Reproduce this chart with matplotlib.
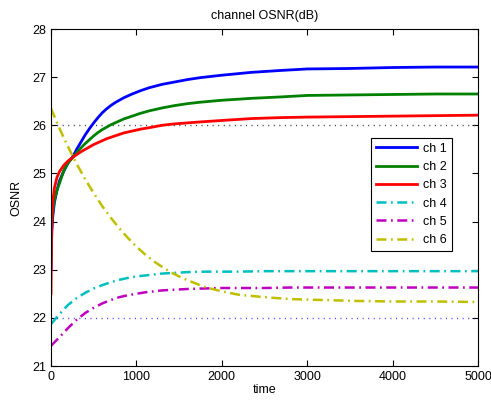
import matplotlib
matplotlib.use("Agg")
import matplotlib.pyplot as plt

plt.rcParams["font.family"] = ["Liberation Sans", "DejaVu Sans"]

# time samples for the fast channels (ch 1-3)
t_fast = [0, 5, 10, 20, 40, 70, 100, 150, 200, 260, 300, 350, 400, 450, 500, 550,
          600, 650, 700, 750, 850, 950, 1050, 1150, 1300, 1450, 1600, 1750, 2000,
          2350, 2700, 3000, 3500, 4000, 4500, 5000]
ch1 = [23.0, 23.5, 23.8, 24.1, 24.4, 24.65, 24.85, 25.05, 25.22, 25.36, 25.5, 25.65,
       25.8, 25.93, 26.05, 26.16, 26.26, 26.34, 26.41, 26.47, 26.57, 26.65, 26.72,
       26.78, 26.85, 26.9, 26.95, 26.99, 27.04, 27.1, 27.14, 27.17, 27.18, 27.2,
       27.21, 27.21]
ch2 = [23.2, 23.7, 23.95, 24.2, 24.45, 24.65, 24.8, 25.06, 25.22, 25.34, 25.43, 25.53,
       25.62, 25.7, 25.78, 25.85, 25.91, 25.96, 26.01, 26.05, 26.13, 26.19, 26.25,
       26.3, 26.36, 26.41, 26.45, 26.48, 26.52, 26.56, 26.59, 26.62, 26.63, 26.64,
       26.65, 26.65]
ch3 = [22.5, 23.6, 24.1, 24.4, 24.7, 24.92, 25.04, 25.17, 25.26, 25.34, 25.39, 25.45,
       25.5, 25.55, 25.6, 25.64, 25.68, 25.72, 25.75, 25.78, 25.84, 25.88, 25.92,
       25.95, 26.0, 26.03, 26.05, 26.07, 26.1, 26.14, 26.16, 26.17, 26.18, 26.19,
       26.2, 26.21]

# time samples for the slow channels (ch 4-6)
t_slow = [0, 100, 200, 300, 400, 500, 600, 700, 800, 900, 1000, 1100, 1200, 1300,
          1400, 1500, 1600, 1800, 2000, 2200, 2500, 2800, 3200, 3600, 4000, 4500, 5000]
ch4 = [21.87, 22.08, 22.27, 22.41, 22.52, 22.61, 22.68, 22.74, 22.79, 22.83, 22.86,
       22.88, 22.9, 22.92, 22.93, 22.94, 22.95, 22.96, 22.96, 22.96, 22.97, 22.97,
       22.97, 22.97, 22.97, 22.97, 22.97]
ch5 = [21.42, 21.6, 21.79, 21.96, 22.1, 22.21, 22.3, 22.37, 22.43, 22.47, 22.5,
       22.53, 22.55, 22.57, 22.58, 22.59, 22.6, 22.61, 22.62, 22.62, 22.62, 22.63,
       22.63, 22.63, 22.63, 22.63, 22.63]
ch6 = [26.35, 25.93, 25.55, 25.2, 24.88, 24.59, 24.32, 24.08, 23.86, 23.66, 23.48,
       23.32, 23.18, 23.06, 22.95, 22.86, 22.78, 22.64, 22.55, 22.48, 22.43, 22.39,
       22.37, 22.35, 22.34, 22.34, 22.33]

# target levels (dotted)
ref_high = 26
ref_low = 22
t_ref = [0, 5000]

fig = plt.figure(figsize=(4.91, 4.00), dpi=100)
ax = fig.add_axes([0.1039, 0.085, 0.8696, 0.8425])

dd = (0, (4, 1.8, 0.7, 1.8))
ax.plot(t_ref, [ref_high] * 2, color="#444444", lw=1, dashes=(0.8, 3.2))
ax.plot(t_ref, [ref_low] * 2, color="b", lw=1, dashes=(0.8, 3.2), alpha=0.7)

ax.plot(t_fast, ch1, color="b", lw=2, label="ch 1")
ax.plot(t_fast, ch2, color="g", lw=2, label="ch 2")
ax.plot(t_fast, ch3, color="r", lw=2, label="ch 3")
ax.plot(t_slow, ch4, color="c", lw=1.8, linestyle=dd, label="ch 4")
ax.plot(t_slow, ch5, color="m", lw=1.8, linestyle=dd, label="ch 5")
ax.plot(t_slow, ch6, color="y", lw=1.8, linestyle=dd, label="ch 6")

ax.set_xlim(0, 5000)
ax.set_ylim(21, 28)
ax.set_xticks(range(0, 5001, 1000))
ax.set_yticks(range(21, 29))
ax.tick_params(direction="in", top=True, right=True, length=4, width=0.8, labelsize=9)
for s in ax.spines.values():
    s.set_linewidth(0.8)

ax.set_title("channel OSNR(dB)", fontsize=9, pad=7)
ax.set_xlabel("time", fontsize=9, labelpad=1)
ax.set_ylabel("OSNR", fontsize=9, labelpad=7)

leg = ax.legend(loc="upper left", bbox_to_anchor=(0.749, 0.677), borderaxespad=0,
                fontsize=9, fancybox=False, framealpha=1, edgecolor="black",
                handlelength=3.3, labelspacing=0.5, handletextpad=0.5)
leg.get_frame().set_linewidth(0.8)

fig.savefig("out.png", dpi=100)
